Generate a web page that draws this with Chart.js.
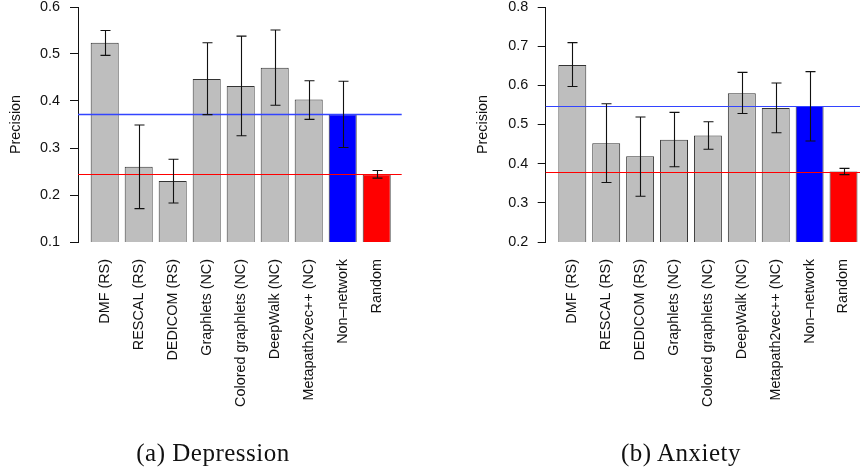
<!DOCTYPE html>
<html>
<head>
<meta charset="utf-8">
<script src="https://cdn.jsdelivr.net/npm/chart.js@4"></script>
<style>
  html, body { margin: 0; padding: 0; background: #fff; }
  #wrap { position: relative; width: 860px; height: 467px; overflow: hidden; background: #fff; }
  .panel { position: absolute; top: 0; width: 430px; height: 467px; }
  .cap { position: absolute; top: 440px; font-family: "Liberation Serif", "Times New Roman", serif;
         font-size: 25px; line-height: 25px; color: #111; white-space: nowrap; letter-spacing: 0.5px;
         transform: translateX(-50%); }
</style>
</head>
<body>
<div id="wrap">
  <div class="panel" style="left:0"><canvas id="c1" width="430" height="467"></canvas></div>
  <div class="panel" style="left:430px"><canvas id="c2" width="430" height="467"></canvas></div>
  <div class="cap" style="left:213px">(a) Depression</div>
  <div class="cap" style="left:681px">(b) Anxiety</div>
</div>
<script>
// ---- data ----
const CATEGORIES = ["DMF (RS)", "RESCAL (RS)", "DEDICOM (RS)", "Graphlets (NC)", "Colored graphlets (NC)",
                    "DeepWalk (NC)", "Metapath2vec++ (NC)", "Non\u2013network", "Random"];

const DEP_VALUES = [0.524, 0.260, 0.230, 0.447, 0.432, 0.471, 0.403, 0.372, 0.244];
const DEP_LOW    = [0.497, 0.171, 0.183, 0.371, 0.326, 0.391, 0.361, 0.301, 0.236];
const DEP_HIGH   = [0.550, 0.349, 0.276, 0.524, 0.538, 0.551, 0.443, 0.442, 0.252];
const DEP_TICKS  = [0.1, 0.2, 0.3, 0.4, 0.5, 0.6];

const ANX_VALUES = [0.652, 0.452, 0.419, 0.461, 0.472, 0.580, 0.542, 0.547, 0.380];
const ANX_LOW    = [0.597, 0.352, 0.317, 0.392, 0.437, 0.528, 0.479, 0.458, 0.372];
const ANX_HIGH   = [0.709, 0.553, 0.519, 0.531, 0.507, 0.633, 0.606, 0.635, 0.388];
const ANX_TICKS  = [0.2, 0.3, 0.4, 0.5, 0.6, 0.7, 0.8];

const BAR_COLORS = ["#BEBEBE", "#BEBEBE", "#BEBEBE", "#BEBEBE", "#BEBEBE", "#BEBEBE", "#BEBEBE", "#0000FF", "#FF0000"];
const NONNET_INDEX = 7;
const RANDOM_INDEX = 8;

// ---- chart builder ----
const FONT = { family: "'Liberation Sans', Arial, Helvetica, sans-serif", size: 14.4 };

function makeChart(id, o) {
  const refLines = {
    id: 'refAndErr',
    afterDatasetsDraw(chart) {
      const ctx = chart.ctx, xs = chart.scales.x, ys = chart.scales.y, a = chart.chartArea;
      ctx.save();
      // reference lines (non-network mean in blue, random mean in red)
      const lines = [
        { v: o.values[NONNET_INDEX], c: '#3344FF', w: o.blueWidth },
        { v: o.values[RANDOM_INDEX], c: '#FF0000', w: 1 }
      ];
      lines.forEach(l => {
        const y = Math.round(ys.getPixelForValue(l.v)) + 0.5;
        ctx.strokeStyle = l.c; ctx.lineWidth = l.w;
        ctx.beginPath(); ctx.moveTo(a.left, y); ctx.lineTo(a.right, y); ctx.stroke();
      });
      // error bars
      ctx.strokeStyle = '#111'; ctx.lineWidth = 1.1;
      o.values.forEach((v, i) => {
        const x = Math.round(xs.getPixelForValue(i)) + 0.5;
        const y1 = ys.getPixelForValue(o.low[i]);
        const y2 = ys.getPixelForValue(o.high[i]);
        ctx.beginPath();
        ctx.moveTo(x, y1); ctx.lineTo(x, y2);
        ctx.moveTo(x - 5, y1); ctx.lineTo(x + 5, y1);
        ctx.moveTo(x - 5, y2); ctx.lineTo(x + 5, y2);
        ctx.stroke();
      });
      ctx.restore();
    }
  };

  return new Chart(document.getElementById(id), {
    type: 'bar',
    data: {
      datasets: [{
        data: o.values.map((v, i) => ({ x: i, y: v })),
        backgroundColor: BAR_COLORS,
        borderColor: '#333',
        borderWidth: 1,
        barPercentage: 0.824,
        categoryPercentage: 1.0
      }]
    },
    options: {
      responsive: false,
      animation: false,
      devicePixelRatio: 1,
      layout: { padding: { top: 7, left: 0, right: o.padRight, bottom: 0 } },
      plugins: { legend: { display: false }, tooltip: { enabled: false } },
      scales: {
        x: {
          type: 'linear',
          min: o.xMin, max: o.xMax,
          offset: false,
          grid: { display: false, drawTicks: false, offset: false },
          border: { display: false },
          afterBuildTicks: s => { s.ticks = CATEGORIES.map((c, i) => ({ value: i })); },
          afterFit: s => { s.height = 467 - 242; s.paddingLeft = 0; s.paddingRight = 0; },
          ticks: {
            autoSkip: false, minRotation: 90, maxRotation: 90, padding: 17,
            color: '#111', font: FONT,
            callback: v => CATEGORIES[v]
          }
        },
        y: {
          min: o.ticks[0], max: o.ticks[o.ticks.length - 1],
          afterBuildTicks: s => { s.ticks = o.ticks.map(v => ({ value: v })); },
          afterFit: s => { s.width = o.axisWidth; s.paddingTop = 0; s.paddingBottom = 0; },
          grid: { display: true, drawOnChartArea: false, drawTicks: true, tickLength: 8, color: '#111', lineWidth: 1 },
          border: { display: true, color: '#111', width: 1 },
          ticks: { color: '#111', font: FONT, padding: o.labelPad, callback: v => Number(v).toFixed(1) },
          title: { display: true, text: 'Precision', color: '#111', font: FONT, padding: { top: o.titlePad, bottom: 0 } }
        }
      }
    },
    plugins: [refLines]
  });
}

makeChart('c1', {
  values: DEP_VALUES, low: DEP_LOW, high: DEP_HIGH, ticks: DEP_TICKS,
  xMin: -0.785, xMax: 8.735, axisWidth: 78, labelPad: 10, titlePad: 7.4, padRight: 28.3, blueWidth: 1.6
});
makeChart('c2', {
  values: ANX_VALUES, low: ANX_LOW, high: ANX_HIGH, ticks: ANX_TICKS,
  xMin: -0.785, xMax: 8.486, axisWidth: 115.7, labelPad: 9.4, titlePad: 44.4, padRight: 0, blueWidth: 1
});
</script>
</body>
</html>
